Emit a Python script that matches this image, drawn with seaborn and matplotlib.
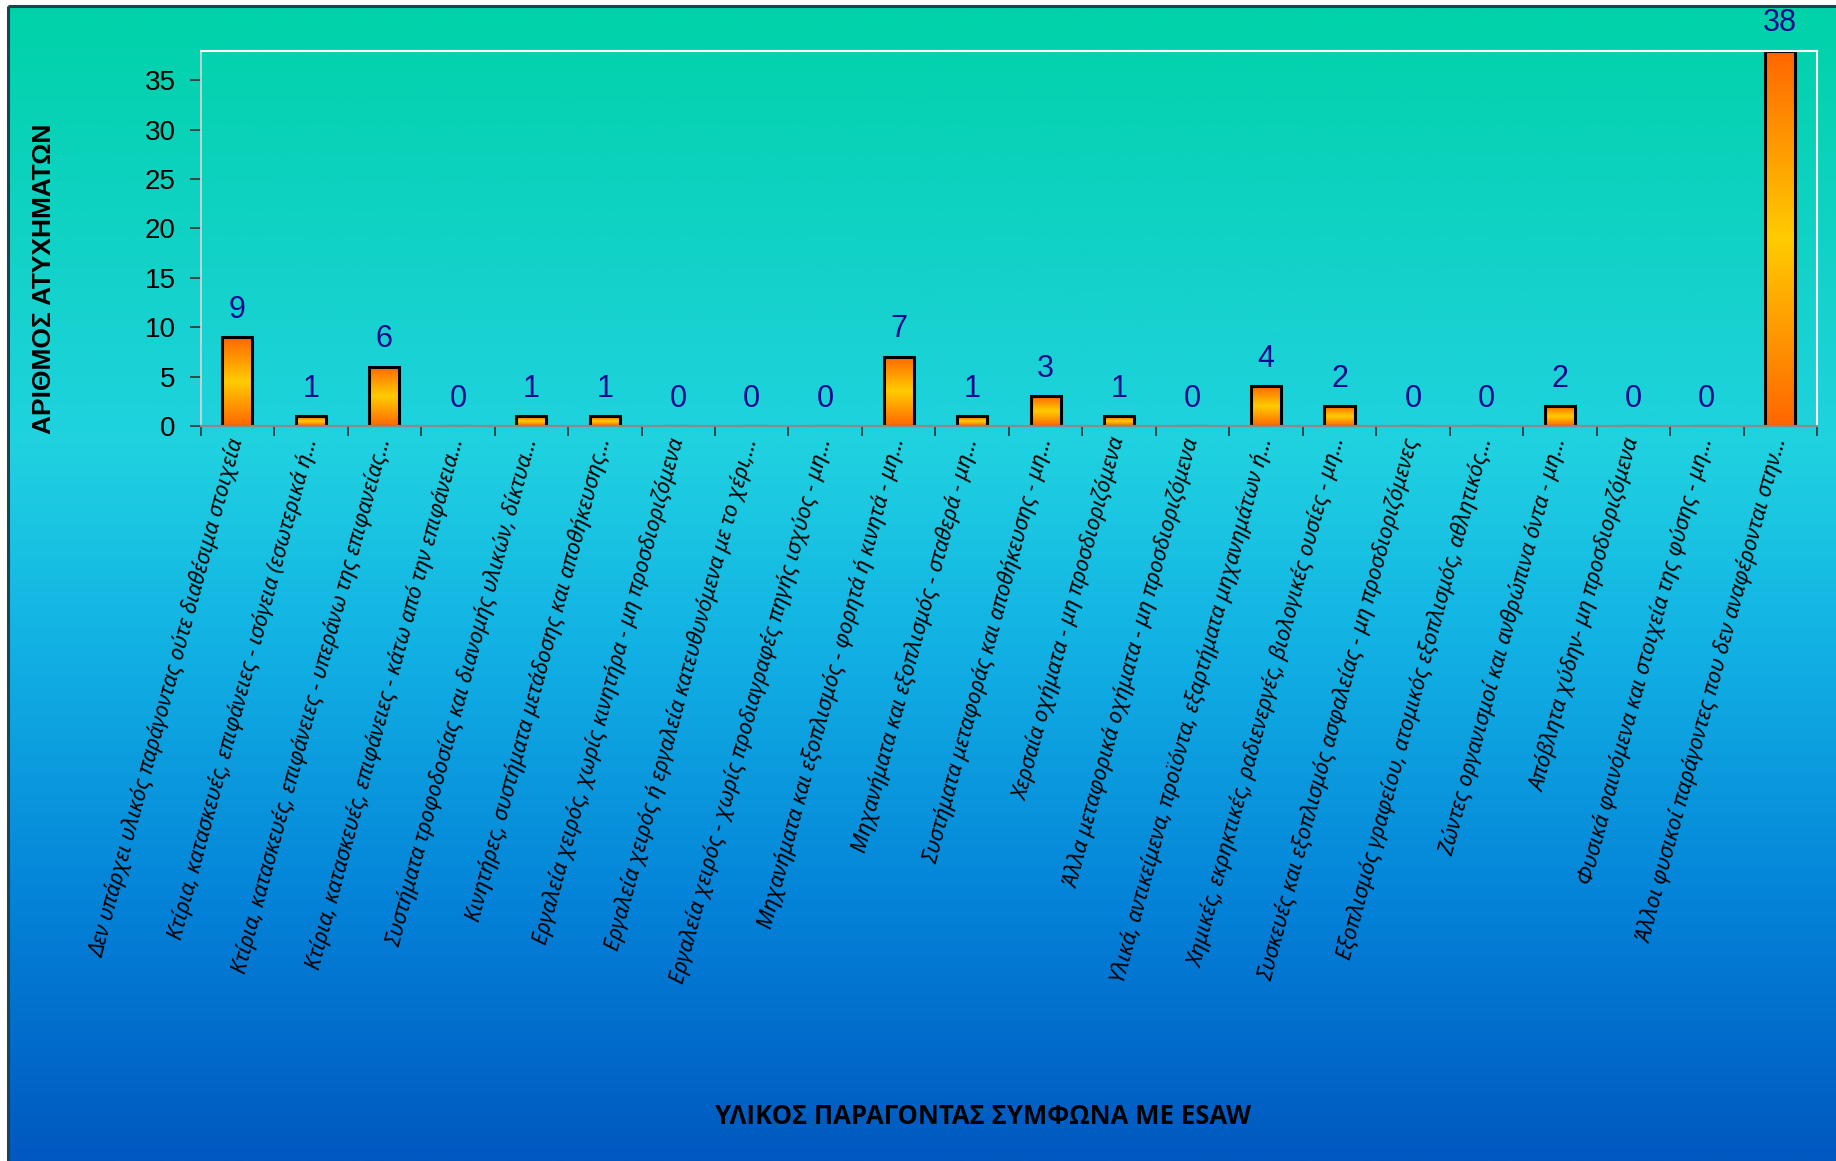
import numpy as np
import pandas as pd
import matplotlib
matplotlib.use("Agg")
import matplotlib.pyplot as plt
from matplotlib.colors import LinearSegmentedColormap
import seaborn as sns

categories = [
    "Δεν υπάρχει υλικός παράγοντας ούτε διαθέσιμα στοιχεία",
    "Κτίρια, κατασκευές, επιφάνειες - ισόγεια (εσωτερικά ή…",
    "Κτίρια, κατασκευές, επιφάνειες - υπεράνω της επιφανείας…",
    "Κτίρια, κατασκευές, επιφάνειες - κάτω από την επιφάνεια…",
    "Συστήματα τροφοδοσίας και διανομής υλικών, δίκτυα…",
    "Κινητήρες, συστήματα μετάδοσης και αποθήκευσης…",
    "Εργαλεία χειρός, χωρίς κινητήρα - μη προσδιοριζόμενα",
    "Εργαλεία χειρός ή εργαλεία κατευθυνόμενα με το χέρι,…",
    "Εργαλεία χειρός - χωρίς προδιαγραφές πηγής ισχύος - μη…",
    "Μηχανήματα και εξοπλισμός - φορητά ή κινητά - μη…",
    "Μηχανήματα και εξοπλισμός - σταθερά - μη…",
    "Συστήματα μεταφοράς και αποθήκευσης - μη…",
    "Χερσαία οχήματα - μη προσδιοριζόμενα",
    "Άλλα μεταφορικά οχήματα - μη προσδιοριζόμενα",
    "Υλικά, αντικείμενα, προϊόντα, εξαρτήματα μηχανημάτων ή…",
    "Χημικές, εκρηκτικές, ραδιενεργές, βιολογικές ουσίες - μη…",
    "Συσκευές και εξοπλισμός ασφαλείας - μη προσδιοριζόμενες",
    "Εξοπλισμός γραφείου, ατομικός εξοπλισμός, αθλητικός…",
    "Ζώντες οργανισμοί και ανθρώπινα όντα - μη…",
    "Απόβλητα χύδην- μη προσδιοριζόμενα",
    "Φυσικά φαινόμενα και στοιχεία της φύσης - μη…",
    "Άλλοι φυσικοί παράγοντες που δεν αναφέρονται στην…",
]
values = [9, 1, 6, 0, 1, 1, 0, 0, 0, 7, 1, 3, 1, 0, 4, 2, 0, 0, 2, 0, 0, 38]
y_ticks = [0, 5, 10, 15, 20, 25, 30, 35]
y_label = "ΑΡΙΘΜΟΣ ΑΤΥΧΗΜΑΤΩΝ"
x_label = "ΥΛΙΚΟΣ ΠΑΡΑΓΟΝΤΑΣ ΣΥΜΦΩΝΑ ΜΕ ESAW"

sns.set_theme(style="white")
plt.rcParams["font.family"] = ["Liberation Sans", "DejaVu Sans"]

W, H = 1836, 1161
fig = plt.figure(figsize=(W / 100, H / 100), dpi=100, facecolor="white")

# background gradient
bg = fig.add_axes([0, 0, 1, 1], zorder=-10)
bg.set_xlim(0, W)
bg.set_ylim(H, 0)
bg.axis("off")
bg_cmap = LinearSegmentedColormap.from_list(
    "bg",
    [(0.0, "#00D2A8"), (0.38, "#20D2E0"), (0.55, "#12B2E4"),
     (0.78, "#0482D8"), (1.0, "#0058C0")],
)
grad = np.linspace(0, 1, 512).reshape(-1, 1)
bg.imshow(grad, cmap=bg_cmap, aspect="auto", extent=(8, W, H, 6), zorder=0)
bg.plot([8, 8], [H, 6], color="#1B4450", lw=2.2, zorder=1, solid_capstyle="butt")
bg.plot([8, W], [6, 6], color="#1B4450", lw=2.2, zorder=1, solid_capstyle="butt")

ax = fig.add_axes([200.7 / W, 1 - 426 / H, (1817 - 200.7) / W, (426 - 50.7) / H])
ax.patch.set_alpha(0)

df = pd.DataFrame({"cat": categories, "val": values})
sns.barplot(data=df, x="cat", y="val", ax=ax, width=0.41, color="#FF9900",
            edgecolor="black", linewidth=2.2, saturation=1)

bar_cmap = LinearSegmentedColormap.from_list(
    "bar", [(0.0, "#FF6600"), (0.5, "#FFCC00"), (1.0, "#FF6600")])
bar_grad = np.linspace(0, 1, 256).reshape(-1, 1)
for p in ax.patches:
    h = p.get_height()
    if h <= 0:
        continue
    x0 = p.get_x()
    im = ax.imshow(bar_grad, cmap=bar_cmap, aspect="auto",
                   extent=(x0, x0 + p.get_width(), 0, h),
                   zorder=p.get_zorder() - 0.1, interpolation="bilinear")
    im.set_clip_path(p)
    p.set_facecolor("none")

ax.set_xlim(-0.5, len(categories) - 0.5)
ax.set_ylim(0, 38)
ax.set_yticks(y_ticks)
ax.set_yticklabels([str(t) for t in y_ticks], fontsize=20, color="black")
ax.tick_params(axis="y", direction="out", length=8, width=1.2, color="#333333",
               pad=10, left=True)

ax.set_xticks(range(len(categories)))
ax.set_xticklabels(categories, rotation=74.8, ha="right", va="center",
                   rotation_mode="anchor", fontsize=15.5, style="italic",
                   family=["Noto Sans", "DejaVu Sans"], color="black")
ax.tick_params(axis="x", which="major", length=0, pad=9)
ax.set_xticks(np.arange(-0.5, len(categories), 1), minor=True)
ax.tick_params(axis="x", which="minor", direction="out", length=7, width=1.2,
               color="#333333", bottom=True)

ax.set_xlabel("")
ax.set_ylabel("")

for side in ["top", "right"]:
    ax.spines[side].set_color("white")
    ax.spines[side].set_linewidth(1.5)
ax.spines["left"].set_color("#D8D8D8")
ax.spines["left"].set_linewidth(1.2)
ax.spines["bottom"].set_color("#8A8A8A")
ax.spines["bottom"].set_linewidth(1.6)
for s in ax.spines.values():
    s.set_visible(True)

ax.bar_label(ax.containers[0], labels=[str(v) for v in values], padding=9,
             fontsize=22, color="#0A0A8C")

fig.text(44 / W, 1 - 279 / H, y_label, rotation=90, ha="center", va="center",
         fontsize=19, fontweight="bold", color="black")
fig.text(983 / W, 1 - 1116 / H, x_label, ha="center", va="center",
         fontsize=18.5, fontweight="bold", color="black",
         family=["Open Sans", "DejaVu Sans"])

fig.savefig("out.png", dpi=100, facecolor="white")
